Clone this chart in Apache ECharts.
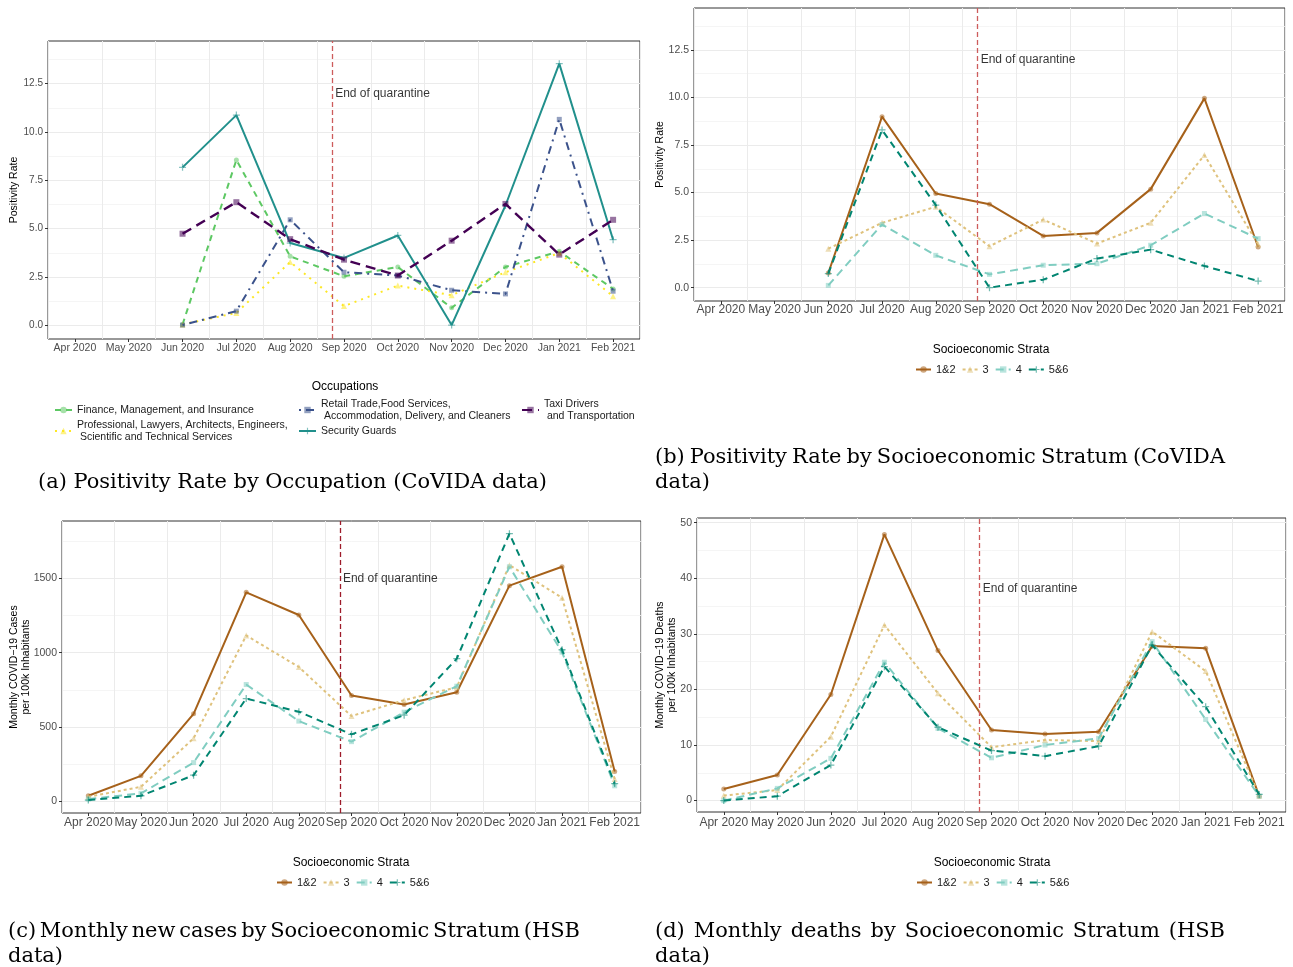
<!DOCTYPE html>
<html><head><meta charset="utf-8">
<script src="https://cdn.jsdelivr.net/npm/echarts@6/dist/echarts.min.js"></script>
<style>html,body{margin:0;padding:0;background:#fff}#c{width:1293px;height:967px}</style>
</head><body><div id="c"></div>
<script>
// ---------- DATA ----------
const months = ['Apr 2020','May 2020','Jun 2020','Jul 2020','Aug 2020','Sep 2020','Oct 2020','Nov 2020','Dec 2020','Jan 2021','Feb 2021'];

// (a) Positivity rate by occupation
const occNames = [
  'Finance, Management, and Insurance',
  'Professional, Lawyers, Architects, Engineers,\n Scientific and Technical Services',
  'Retail Trade,Food Services,\n Accommodation, Delivery, and Cleaners',
  'Security Guards',
  'Taxi Drivers\n and Transportation'
];
const occFinance      = [null,null,0.05,8.55,3.57,2.54,3.02,0.91,3.02,3.83,1.89];
const occProfessional = [null,null,0.05,0.65,3.28,1.00,2.06,1.56,2.75,3.74,1.51];
const occRetail       = [null,null,0.02,0.74,5.46,2.75,2.58,1.82,1.63,10.65,1.77];
const occSecurity     = [null,null,8.17,10.87,4.26,3.49,4.65,0.02,6.20,13.53,4.43];
const occTaxi         = [null,null,4.74,6.37,4.46,3.40,2.58,4.38,6.28,3.66,5.46];

// strata
const strataNames = ['1&2','3','4','5&6'];
// (b) Positivity rate by stratum
const posS12 = [null,null,0.77,8.99,4.95,4.39,2.72,2.88,5.18,9.95,2.14];
const posS3  = [null,null,2.05,3.41,4.25,2.18,3.58,2.32,3.41,6.97,2.28];
const posS4  = [null,null,0.12,3.32,1.70,0.70,1.18,1.26,2.23,3.90,2.58];
const posS56 = [null,null,0.74,8.29,4.34,0.00,0.42,1.53,2.00,1.14,0.35];
// (c) Monthly cases per 100k
const casesS12 = [38,172,589,1406,1254,712,652,734,1451,1578,201];
const casesS3  = [31,98,424,1116,904,574,681,768,1589,1370,150];
const casesS4  = [16,54,261,786,540,402,600,775,1578,1004,105];
const casesS56 = [9,38,176,692,603,451,580,960,1801,1020,120];
// (d) Monthly deaths per 100k
const deathsS12 = [2.1,4.6,19.1,47.9,27.0,12.7,12.0,12.4,27.8,27.4,0.8];
const deathsS3  = [0.9,1.9,11.5,31.6,19.3,9.6,10.9,10.7,30.4,23.3,0.9];
const deathsS4  = [0.0,2.2,7.6,24.9,13.0,7.7,10.0,11.2,28.6,14.6,0.8];
const deathsS56 = [0.0,0.8,6.4,24.1,13.2,9.0,8.0,9.8,28.0,16.9,1.1];

// end of quarantine (month index position) and label height per panel
const quarantineEnd = 4.78;
const quarantineLabelY = [12.0, 12.0, 1500, 38.1];

// tick labels
const posTicks = [0, 2.5, 5, 7.5, 10, 12.5];
const posMinor = [1.25, 3.75, 6.25, 8.75, 11.25, 13.75];
const casesTicks = [0, 500, 1000, 1500];
const casesMinor = [250, 750, 1250, 1750];
const deathTicks = [0, 10, 20, 30, 40, 50];
const deathMinor = [5, 15, 25, 35, 45];

// ---------- STYLE / LAYOUT ----------
const FONT = '"Liberation Sans", Arial, sans-serif';
const SERIF = '"DejaVu Serif", "Liberation Serif", serif';
const occColors = ['#5DC863','#FDE725','#3B528B','#21908C','#440154'];
const strataColors = ['#A6611A','#DFC27D','#80CDC1','#018571'];
const PLUS = 'path://M-0.18,-1H0.18V-0.18H1V0.18H0.18V1H-0.18V0.18H-1V-0.18H-0.18Z';
const occStyle = [
  {symbol:'circle', size:5, dash:[6,5], width:2},
  {symbol:'triangle', size:6, dash:[2,5], width:2},
  {symbol:'rect', size:5, dash:[2,5,8,5], width:2},
  {symbol:PLUS, size:7, dash:'solid', width:2},
  {symbol:'rect', size:6, dash:[10,6], width:2.4}
];
const strataStyle = [
  {symbol:'circle', size:5, dash:'solid', width:2},
  {symbol:'triangle', size:6, dash:[3,3], width:2},
  {symbol:'rect', size:5, dash:[8,5], width:2},
  {symbol:PLUS, size:7, dash:[7,5], width:2}
];

const grids = [
  {left:48, top:41, width:592, height:298},
  {left:694, top:8, width:591, height:293},
  {left:62, top:521, width:579, height:292},
  {left:697, top:518, width:589, height:294}
];

const panels = [
  {ymin:-0.7, ymax:14.7, major:posTicks, minor:posMinor, fmt:v=>v.toFixed(1), xFont:10.5, yFont:10,
   name:'Positivity Rate', nameGap:28, xMargin:4, vline:'#CD5C5C', vdash:[5,3],
   lines:[occFinance,occProfessional,occRetail,occSecurity,occTaxi].map((d,k)=>({name:occNames[k], data:d, color:occColors[k], ...occStyle[k]}))},
  {ymin:-0.7, ymax:14.7, major:posTicks, minor:posMinor, fmt:v=>v.toFixed(1), xFont:12, yFont:10.5,
   name:'Positivity Rate', nameGap:28, xMargin:3, vline:'#CD5C5C', vdash:[5,3],
   lines:[posS12,posS3,posS4,posS56].map((d,k)=>({name:strataNames[k], data:d, color:strataColors[k], ...strataStyle[k]}))},
  {ymin:-78, ymax:1886, major:casesTicks, minor:casesMinor, fmt:v=>String(v), xFont:12, yFont:10.5,
   name:'Monthly COVID\u221219 Cases\nper 100k Inhabitants', nameGap:30, xMargin:4, vline:'#9E1B2A', vdash:[5,3],
   lines:[casesS12,casesS3,casesS4,casesS56].map((d,k)=>({name:strataNames[k], data:d, color:strataColors[k], ...strataStyle[k]}))},
  {ymin:-2.05, ymax:50.85, major:deathTicks, minor:deathMinor, fmt:v=>String(v), xFont:12, yFont:10.5,
   name:'Monthly COVID\u221219 Deaths\nper 100k Inhabitants', nameGap:19, xMargin:5, vline:'#CD5C5C', vdash:[5,3],
   lines:[deathsS12,deathsS3,deathsS4,deathsS56].map((d,k)=>({name:strataNames[k], data:d, color:strataColors[k], ...strataStyle[k]}))}
];

const xAxes = [], yAxes = [], series = [];
panels.forEach((p, i) => {
  xAxes.push({type:'category', gridIndex:i, data:months, boundaryGap:true, position:'bottom',
    axisLine:{show:false, onZero:false},
    axisTick:{show:true, interval:0, alignWithLabel:true, length:3, lineStyle:{color:'#333', width:1}},
    axisLabel:{interval:0, hideOverlap:false, color:'#4D4D4D', fontSize:p.xFont, fontFamily:FONT, margin:p.xMargin},
    splitLine:{show:true, interval:0, lineStyle:{color:'#EBEBEB', width:1}}});
  xAxes.push({type:'value', gridIndex:i, min:-0.5, max:10.5, show:false, position:'bottom', axisLine:{onZero:false}});
  yAxes.push({type:'value', gridIndex:i, min:p.ymin, max:p.ymax, position:'left',
    axisLine:{show:false, onZero:false},
    axisTick:{show:true, length:3, customValues:p.major, lineStyle:{color:'#333', width:1}},
    axisLabel:{customValues:p.major, formatter:p.fmt, color:'#4D4D4D', fontSize:p.yFont, fontFamily:FONT, margin:5},
    splitLine:{show:true, lineStyle:{color:'#EBEBEB', width:1.1}},
    name:p.name, nameLocation:'middle', nameGap:p.nameGap, nameMoveOverlap:false,
    nameTextStyle:{color:'#000', fontSize:10.5, fontFamily:FONT, lineHeight:12}});
  yAxes.push({type:'value', gridIndex:i, min:p.ymin, max:p.ymax, position:'left',
    axisLine:{show:false, onZero:false}, axisTick:{show:false, customValues:p.minor}, axisLabel:{show:false},
    splitLine:{show:true, lineStyle:{color:'#F2F2F2', width:0.8}}});
  p.lines.forEach((ln, k) => series.push({
    type:'line', name:ln.name, xAxisIndex:2*i, yAxisIndex:2*i, data:ln.data,
    symbol:ln.symbol, symbolSize:ln.size, showSymbol:true,
    lineStyle:{color:ln.color, width:ln.width, type:ln.dash},
    itemStyle:{color:ln.color, opacity:0.55},
    emphasis:{disabled:true}, z:3+k, animation:false
  }));
  series.push({type:'scatter', xAxisIndex:2*i+1, yAxisIndex:2*i,
    data:[[quarantineEnd, quarantineLabelY[i]]], symbolSize:0, silent:true, z:2,
    label:{show:true, position:'right', distance:3, formatter:'End of quarantine', color:'#000', fontSize:12, fontFamily:FONT},
    markLine:{silent:true, symbol:'none', animation:false, label:{show:false},
      lineStyle:{color:p.vline, type:p.vdash, width:1.3}, data:[{xAxis:quarantineEnd}]}
  });
});

const legTxt = {color:'#1A1A1A', fontSize:10.5, fontFamily:FONT, lineHeight:11.5};
const strTxt = {color:'#1A1A1A', fontSize:11, fontFamily:FONT};
const legend = [
  {data:[occNames[0], occNames[1]], orient:'vertical', left:54, top:404.25, itemGap:3.75, itemWidth:17, itemHeight:8, padding:0, textStyle:legTxt, selectedMode:false},
  {data:[occNames[2], occNames[3]], orient:'vertical', left:298, top:398.5, itemGap:3.75, itemWidth:17, itemHeight:8, padding:0, textStyle:legTxt, selectedMode:false},
  {data:[occNames[4]], orient:'vertical', left:521, top:398.5, itemGap:3.75, itemWidth:17, itemHeight:8, padding:0, textStyle:legTxt, selectedMode:false},
  {data:strataNames, orient:'horizontal', left:915, top:364, itemGap:6, itemWidth:15, itemHeight:8, padding:0, textStyle:strTxt, selectedMode:false},
  {data:strataNames, orient:'horizontal', left:276, top:877, itemGap:6, itemWidth:15, itemHeight:8, padding:0, textStyle:strTxt, selectedMode:false},
  {data:strataNames, orient:'horizontal', left:916, top:877, itemGap:6, itemWidth:15, itemHeight:8, padding:0, textStyle:strTxt, selectedMode:false}
];

// caption text helpers
const measureCtx = document.createElement('canvas').getContext('2d');
const capA = '(a) Positivity Rate by Occupation (CoVIDA data)';
measureCtx.font = '20px ' + SERIF;
const capSize = Math.min(22, 20 * 509 / measureCtx.measureText(capA).width);
const capFont = capSize.toFixed(2) + 'px ' + SERIF;
function plainText(text, x, y, font, align) {
  return {type:'text', x:x, y:y, silent:true, style:{text:text, font:font, fill:'#000', align:align||'left', verticalAlign:'middle'}};
}
function justified(text, x0, x1, y, font) {
  measureCtx.font = font;
  const words = text.split(' ');
  const w = words.map(s => measureCtx.measureText(s).width);
  const total = w.reduce((a,b)=>a+b, 0);
  const gap = (x1 - x0 - total) / (words.length - 1);
  let x = x0;
  return words.map((s, k) => { const el = plainText(s, x, y, font); x += w[k] + gap; return el; });
}
const titleFont = '12px ' + FONT;
const graphic = [
  plainText('Occupations', 345, 387, titleFont, 'center'),
  plainText('Socioeconomic Strata', 991, 350, titleFont, 'center'),
  plainText('Socioeconomic Strata', 351, 863, titleFont, 'center'),
  plainText('Socioeconomic Strata', 992, 863, titleFont, 'center'),
  plainText(capA, 38, 483, capFont),
  ...justified('(b) Positivity Rate by Socioeconomic Stratum (CoVIDA', 655, 1225, 458, capFont),
  plainText('data)', 655, 483, capFont),
  ...justified('(c) Monthly new cases by Socioeconomic Stratum (HSB', 8, 580, 932, capFont),
  plainText('data)', 8, 957, capFont),
  ...justified('(d) Monthly deaths by Socioeconomic Stratum (HSB', 655, 1225, 932, capFont),
  plainText('data)', 655, 957, capFont)
];

const chart = echarts.init(document.getElementById('c'), null, {renderer:'canvas', width:1293, height:967});
chart.setOption({
  animation:false,
  backgroundColor:'#ffffff',
  grid: grids.map(g => Object.assign({show:true, borderColor:'#333333', borderWidth:1, backgroundColor:'#ffffff', containLabel:false}, g)),
  xAxis:xAxes, yAxis:yAxes, series:series, legend:legend, graphic:graphic,
  tooltip:{show:false}
});
</script>
</body></html>
